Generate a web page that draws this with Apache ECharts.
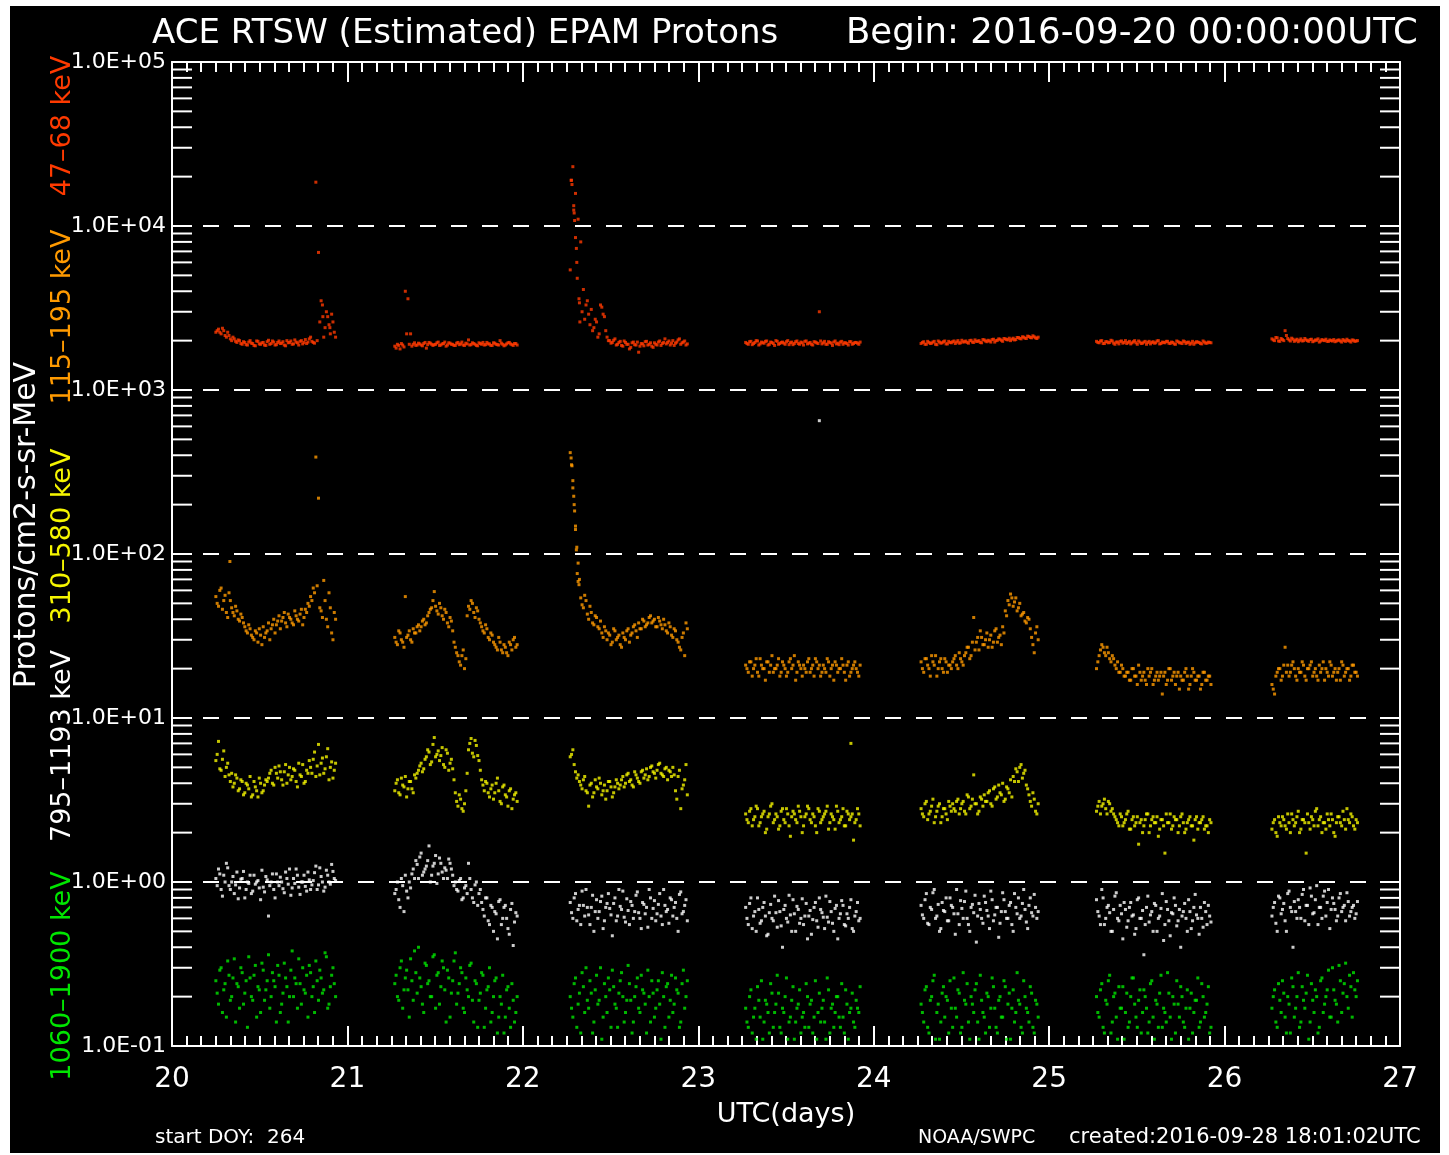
<!DOCTYPE html>
<html><head><meta charset="utf-8">
<script src="https://cdn.jsdelivr.net/npm/echarts@6/dist/echarts.min.js"></script>
<style>html,body{margin:0;padding:0;background:#fff;}#c{position:absolute;left:10px;top:6px;width:1430px;height:1147px;}</style>
</head><body><div id="c"></div>
<script>
// time grid of each data segment (day of month, UTC) and sampling step; layer B samples sit half a step later
const segStart = [20.25, 21.27, 22.27, 23.27, 24.27, 25.27, 26.27];
const cadence = 0.015;
const xTicks = [20, 21, 22, 23, 24, 25, 26, 27];
const yTickLabels = ['1.0E-01','1.0E+00','1.0E+01','1.0E+02','1.0E+03','1.0E+04','1.0E+05'];

// 47-68 keV (red)
const p47_68 = [
 [2250,2350,2200,2300,2100,2150,2000,2050,1950,2000,1900,1950,1880,2000,1920,1860,1980,1900,1950,1870,2010,1920,1960,1890,1990,1930,1880,2000,1950,1900,2020,1940,1980,1910,2030,1960,2100,1950,18500,6900,3500,2100,3000,2500,2900,2250],
 [1850,1900,1780,1880,4000,3600,2200,1900,1870,1930,1880,1920,1800,1950,1900,1890,1940,1870,1910,1960,1880,1930,1900,1870,1950,1910,1880,1930,2020,1890,1920,1870,1940,1900,1880,1950,1910,1870,1930,1890,2000,1900,1880,1940,1910,1870,1920],
 [5400,23000,15800,11000,8000,4100,3300,2900,3100,2400,2600,2200,3200,2800,2100,2000,1950,2050,1900,1980,1850,1950,1900,1820,1960,1880,1700,1920,1860,1980,1900,1850,1940,1880,1990,1920,2050,1950,1880,2000,1930,2020,1900,1960,1880],
 [1950,1900,1980,1920,2000,1880,1960,1930,1990,1900,1950,1870,1980,1920,1960,1900,2000,1940,1890,1970,1920,1960,1880,1990,1930,1900,1970,1940,3000,1910,1980,1900,1950,1870,1990,1930,1960,1900,1940,1880,1970,1920,1950,1900],
 [1920,1970,1900,1950,1930,1980,1890,1960,1940,1990,1910,1950,1970,1920,2000,1940,1960,1990,1930,2010,1950,1980,2000,1940,2020,1970,1990,2030,1960,2010,2040,1980,2050,2020,2000,2070,2030,2090,2050,2100,2060,2120,2080,2110,2060],
 [1980,1940,2000,1920,1970,1950,1990,1900,1960,1980,1930,2000,1950,1910,1970,1940,1990,1920,1960,1900,1980,1950,1930,1990,1910,1960,1940,1980,1920,1950,1900,1970,1940,1990,1920,1960,1930,1900,1970,1950,1910,1960,1930,1950],
 [2050,2000,2080,1980,2030,2300,2060,1990,2040,2010,1970,2050,2000,2020,1980,2040,1990,2010,1960,2030,2000,1980,2020,1990,1970,2010,1990,2030,1980,2000,1960,2010,1990]
];
const p47_68B = [
 [2300,2250,2380,2150,2250,2050,2100,1980,2020,1920,1970,1890,1960,1930,1870,1990,1910,1940,1880,1970,1900,1990,1880,1950,1920,1970,1860,1940,1990,1910,1960,1880,2000,1950,1920,2050,1980,1930,2000,2600,3300,2400,2800,2200,2600,2100],
 [1800,1870,1920,1830,2200,1900,1850,1940,1880,1910,1860,1950,1890,1930,1870,1900,1960,1880,1920,1850,1940,1900,1870,1930,1890,1960,1870,1910,1880,1940,1900,1860,1920,1950,1890,1910,1870,1940,1900,1880,1930,1860,1910,1950,1890,1920,1880],
 [19000,12000,6000,3400,3000,2700,3500,2500,2300,2700,2100,3300,2900,2300,2000,1930,2010,1880,1950,1870,1990,1900,1780,1940,1890,1960,1850,1910,1970,1880,1940,1820,1900,1960,1870,1950,1910,1990,1930,1870,1960,2050,1940,1990,1910],
 [1920,1970,1890,1950,1990,1910,1940,1980,1880,1960,1920,2000,1900,1950,1930,1970,1890,1960,1920,1990,1900,1940,1980,1910,1950,1880,1960,1920,1990,1940,1900,1970,1930,1960,1910,1890,1980,1940,1920,1970,1900,1950,1930,1960],
 [1950,1900,1980,1920,1960,1900,1990,1930,1970,1910,1980,1940,1990,1960,1930,2010,1970,1950,2000,1960,2020,1980,1950,2030,1990,2010,1960,2040,2000,2050,2010,2060,2030,2070,2040,2020,2090,2060,2110,2070,2130,2090,2140,2080,2100],
 [1950,1990,1920,1970,1940,2010,1930,1960,1910,1990,1950,1920,1980,1940,2000,1900,1960,1930,1980,1950,1910,1970,1940,2000,1920,1950,1980,1930,1960,1910,1990,1940,1920,1970,1950,1900,1980,1940,1960,1920,1990,1930,1960,1940],
 [2020,2090,1990,2060,2000,2150,2020,2070,1980,2040,2010,1990,2060,2000,2030,1970,2020,2050,1990,2010,2040,1980,2000,2030,1990,2020,1960,2000,2040,1990,2020,1980,2000]
];
const p47_68Extra = [[22.275,19000],[22.28,17900],[22.29,13300],[22.29,12500],[22.295,10800],[22.30,8500],[22.305,7300],[22.31,4800],[22.32,3600],[22.325,2600],[20.86,2800],[20.9,2400]];

// 115-195 keV (orange)
const p115_195 = [
 [55,48,62,52,44,58,47,42,45,39,41,36,33,35,31,34,29,32,36,33,38,35,40,37,42,39,44,36,41,38,45,40,43,37,46,50,55,62,390,219,45,69,40,58,33,44],
 [31,28,33,29,55,32,30,35,33,37,36,40,38,44,47,59,45,50,42,46,38,41,34,27,24,21,26,23,48,52,44,47,40,36,33,35,30,32,28,26,29,25,27,24,28,30,27],
 [415,280,148,88,54,47,52,40,44,37,41,35,33,36,30,32,29,34,31,28,33,30,35,32,36,34,38,35,39,37,41,38,40,36,39,35,37,33,36,31,34,29,26,33,38],
 [21,19,22,20,23,18,21,20,22,19,24,20,21,18,22,20,19,23,21,17,22,20,21,19,23,20,18,22,21,19,20,23,18,21,22,19,20,21,17,22,19,21,20,18],
 [22,19,23,20,24,21,18,22,20,23,19,21,22,24,20,23,21,25,27,24,41,29,26,31,28,33,30,27,34,29,32,36,45,52,57,48,54,47,42,44,38,40,31,25,36],
 [20,24,28,25,27,23,24,21,22,19,20,18,19,17,20,18,21,17,19,16,18,20,17,19,18,14,19,17,20,18,16,19,18,17,20,15,18,19,17,18,16,19,17,18],
 [16,14,19,20,18,27,21,19,22,18,20,19,21,17,20,22,19,18,21,20,17,19,22,18,20,19,17,21,19,20,18,21,19]
];
const p115_195B = [
 [50,60,46,56,41,52,44,48,40,43,38,34,37,32,30,33,35,28,31,34,30,37,33,39,35,41,38,43,40,37,42,39,46,41,44,48,52,58,64,47,41,52,36,47,30,40],
 [29,34,30,27,31,34,29,33,36,34,39,37,42,46,52,48,43,47,40,44,36,39,29,25,22,24,20,42,46,50,41,45,38,34,37,31,33,29,27,31,26,28,25,29,26,31,28],
 [350,200,110,70,49,56,43,48,38,42,36,39,31,34,33,28,35,30,32,27,31,34,29,33,37,31,35,40,36,38,42,39,36,41,37,40,34,38,32,35,30,27,31,24,35],
 [20,22,18,21,19,23,20,17,22,21,19,20,23,19,21,18,22,20,24,19,21,18,20,22,19,21,23,20,18,21,19,22,20,17,21,20,23,19,21,18,20,22,19,21],
 [20,23,21,18,22,24,20,23,19,22,21,20,23,21,25,22,24,27,23,29,26,31,34,28,30,27,32,29,35,31,28,33,42,49,54,51,45,50,43,39,41,35,28,33,30],
 [22,26,27,24,25,22,23,20,19,21,18,19,17,20,18,16,19,18,17,20,19,16,18,17,19,18,16,20,17,19,18,15,17,19,18,16,20,17,18,15,19,17,18,16],
 [15,18,20,17,21,19,18,21,20,17,19,22,18,20,21,18,20,17,19,22,20,18,21,19,17,20,22,18,20,17,21,19,18]
];
const p115_195Extra = [[20.33,90],[22.275,385],[22.28,345],[22.285,253],[22.29,225],[22.295,183],[22.30,141],[22.305,106],[22.31,76],[22.315,68],[22.32,65]];

// 310-580 keV (yellow)
const p310_580 = [
 [5.5,7.2,4.8,6.3,5.0,4.5,4.6,4.0,4.3,3.7,4.1,3.5,3.9,4.4,3.4,3.8,3.3,4.0,3.6,4.2,4.3,4.8,3.9,4.6,5.1,4.2,4.7,4.0,5.0,4.4,4.8,3.8,4.5,5.2,4.1,4.6,5.0,5.6,4.4,6.9,5.3,4.6,5.8,4.2,5.4,4.8],
 [3.6,4.2,3.4,3.9,4.4,3.7,4.1,3.5,4.3,4.8,5.3,4.9,5.8,6.2,5.4,7.6,6.0,5.5,6.6,5.0,6.1,5.3,4.9,3.5,2.9,3.2,2.7,3.6,6.4,7.5,5.8,6.8,5.5,4.2,3.6,4.0,3.3,3.9,3.5,4.3,3.1,3.8,3.4,2.9,3.7,3.2,3.5],
 [5.8,6.4,4.7,4.5,3.9,4.2,3.6,2.9,4.0,3.5,3.8,4.3,3.4,3.9,3.6,4.1,3.3,3.8,4.0,3.9,4.4,4.0,4.6,4.2,3.8,4.5,4.1,4.7,4.3,4.9,4.4,5.1,4.6,4.8,5.3,4.5,4.9,4.2,4.7,5.0,3.6,4.4,2.8,3.9,5.2],
 [2.6,2.3,2.8,2.4,2.9,2.2,2.5,2.7,2.1,2.6,3.0,2.4,2.5,2.2,2.8,2.3,2.6,1.9,2.7,2.4,2.9,2.5,2.2,2.6,2.8,2.3,2.5,2.0,2.7,2.4,2.6,2.9,2.3,2.5,2.1,2.7,2.4,2.8,2.2,2.6,2.5,1.8,2.4,2.6],
 [2.8,2.5,3.1,2.6,2.9,2.3,2.7,3.0,2.5,2.8,2.4,2.9,3.0,2.7,3.2,2.8,3.1,2.6,3.3,2.9,4.5,3.0,2.7,3.2,3.4,3.1,3.6,2.9,3.8,3.3,3.5,4.0,3.2,3.7,4.2,4.4,4.9,4.1,5.2,4.6,3.9,3.4,2.9,3.2,2.6],
 [2.7,3.1,2.9,3.2,2.6,3.0,2.8,2.5,2.3,2.6,2.2,2.4,2.7,2.1,2.5,2.3,1.7,2.4,2.2,2.6,2.0,2.4,2.3,2.5,2.1,2.4,1.5,2.3,2.6,2.2,2.4,2.0,2.5,2.3,2.1,2.4,2.2,1.8,2.5,2.3,2.4,2.1,2.2,2.4],
 [2.1,2.4,1.9,2.3,2.5,2.2,2.6,2.0,2.4,2.3,2.7,2.1,2.4,1.5,2.3,2.5,2.2,2.8,2.4,2.0,2.3,2.6,2.2,2.4,1.9,2.5,2.3,2.7,2.1,2.4,2.6,2.2,2.4]
];
const p310_580B = [
 [6.0,4.9,5.6,4.4,5.3,4.1,3.8,4.5,3.6,4.2,3.4,4.0,3.7,3.3,4.1,3.6,4.3,3.5,3.9,4.1,4.6,4.0,5.0,4.3,4.7,3.9,5.2,4.5,4.2,4.9,4.1,5.3,4.4,4.0,4.8,5.5,4.6,6.2,5.1,4.5,5.7,4.9,6.5,5.0,4.3,5.3],
 [4.0,3.5,4.3,3.8,3.3,4.1,3.7,4.5,4.6,5.1,4.7,5.6,6.4,5.2,6.9,5.8,6.3,5.9,5.2,6.4,4.8,5.6,4.2,3.1,3.4,2.8,3.0,4.6,7.0,6.1,7.3,5.9,4.8,3.9,4.1,3.5,3.7,3.2,4.0,3.6,3.0,3.9,3.3,3.6,2.8,3.4,3.1],
 [6.0,5.2,4.3,4.1,3.7,4.4,3.5,3.9,3.3,4.2,3.7,4.0,3.6,3.2,4.1,3.8,3.5,4.2,3.7,4.2,3.8,4.5,4.1,3.9,4.7,4.3,4.0,4.8,4.5,4.2,5.0,4.7,4.3,5.2,4.6,4.4,5.0,4.8,4.4,4.5,3.2,4.8,3.7,4.2,3.4],
 [2.4,2.7,2.2,2.5,2.8,2.3,2.6,2.0,2.5,2.9,2.3,2.6,2.1,2.7,2.4,2.8,2.2,2.5,2.6,2.3,2.7,2.0,2.5,2.9,2.4,2.6,2.2,2.8,2.3,2.5,2.7,2.1,2.6,2.4,2.9,2.3,2.5,2.2,2.7,2.4,2.6,2.3,2.8,2.2],
 [2.6,3.0,2.4,2.7,3.2,2.5,2.9,2.3,2.8,2.6,3.1,2.7,2.8,3.1,2.6,3.0,2.7,3.4,2.8,3.2,3.0,2.6,3.3,2.9,3.1,3.5,3.0,3.7,3.2,3.9,3.4,3.1,3.8,3.5,3.3,4.1,4.7,5.0,4.3,4.8,3.7,3.1,3.5,2.7,3.0],
 [2.9,2.6,3.0,2.8,3.1,2.7,2.6,2.4,2.2,2.5,2.3,2.6,2.1,2.4,2.2,2.5,2.3,2.0,2.4,2.6,2.2,2.5,2.3,1.9,2.4,2.2,2.6,2.3,2.1,2.5,2.4,2.2,2.6,2.0,2.3,2.5,2.2,2.4,2.1,2.3,2.5,2.2,2.0,2.3],
 [2.3,2.0,2.5,2.2,2.4,2.1,2.3,2.6,2.2,2.5,2.0,2.4,2.3,2.6,2.1,2.4,2.7,2.2,2.5,2.3,2.1,2.4,2.6,2.0,2.3,2.5,2.2,2.4,2.8,2.3,2.5,2.1,2.3]
];
const p310_580Extra = [[23.87,7.0]];

// 795-1193 keV (white)
const p795_1193 = [
 [1.05,1.2,0.9,1.1,1.3,0.95,1.0,0.85,1.15,0.92,1.05,0.8,1.0,1.1,0.88,0.97,1.02,0.78,0.93,1.08,0.62,1.0,0.9,1.12,0.95,1.0,0.86,1.05,1.2,0.92,0.98,1.1,0.84,1.0,0.94,1.15,0.9,1.02,1.25,0.96,1.08,0.88,1.18,1.0,1.28,1.05],
 [0.85,1.0,0.7,0.95,1.1,0.8,0.92,1.2,1.35,1.05,1.5,1.15,1.25,1.66,1.1,1.3,0.98,1.4,1.15,1.22,1.05,1.3,1.1,1.0,0.88,1.05,0.8,0.95,1.3,0.9,0.75,1.0,0.85,0.75,0.62,0.8,0.55,0.7,0.66,0.45,0.78,0.6,0.72,0.52,0.68,0.41,0.65],
 [0.75,0.6,0.85,0.68,0.55,0.72,0.9,0.63,0.7,0.5,0.78,0.66,0.82,0.58,0.74,0.69,0.47,0.8,0.62,0.71,0.88,0.57,0.67,0.76,0.6,0.83,0.65,0.52,0.73,0.7,0.9,0.6,0.77,0.64,0.85,0.55,0.72,0.68,0.8,0.62,0.75,0.5,0.87,0.66,0.78],
 [0.7,0.55,0.8,0.62,0.5,0.68,0.58,0.75,0.47,0.65,0.6,0.82,0.53,0.66,0.4,0.72,0.57,0.63,0.78,0.5,0.68,0.6,0.55,0.74,0.62,0.48,0.7,0.58,0.8,0.65,0.52,0.61,0.76,0.56,0.69,0.45,0.64,0.72,0.54,0.6,0.78,0.5,0.66,0.58],
 [0.72,0.6,0.85,0.55,0.68,0.9,0.62,0.5,0.75,0.66,0.58,0.8,0.7,0.48,0.64,0.77,0.6,0.88,0.55,0.7,0.65,0.43,0.74,0.6,0.82,0.67,0.52,0.78,0.63,0.7,0.56,0.86,0.66,0.6,0.75,0.5,0.7,0.8,0.62,0.9,0.57,0.72,0.65,0.84,0.6],
 [0.78,0.62,0.9,0.55,0.7,0.65,0.5,0.82,0.6,0.72,0.45,0.68,0.58,0.75,0.63,0.52,0.8,0.6,0.36,0.7,0.57,0.66,0.74,0.5,0.62,0.85,0.55,0.68,0.47,0.64,0.72,0.58,0.4,0.66,0.6,0.78,0.52,0.7,0.63,0.48,0.6,0.75,0.55,0.62],
 [0.62,0.75,0.5,0.8,0.68,0.58,0.85,0.7,0.4,0.66,0.78,0.6,0.9,0.72,0.55,0.82,0.65,0.95,0.7,0.6,0.88,0.75,0.52,0.8,0.68,0.62,0.85,0.7,0.58,0.76,0.66,0.72,0.64]
];
const p795_1193B = [
 [0.95,1.12,0.82,1.0,1.22,0.9,1.08,0.96,0.79,1.04,1.16,0.9,0.98,0.85,1.1,1.0,0.92,1.18,0.87,1.03,0.95,1.12,0.8,1.0,1.07,0.91,1.15,0.97,0.83,1.05,1.2,0.93,1.0,1.1,0.88,1.03,0.96,1.14,0.9,1.22,1.0,0.93,1.1,0.97,1.16,1.02],
 [0.9,0.78,1.05,0.66,0.88,1.0,1.12,1.05,1.28,1.42,1.1,1.2,1.35,1.0,1.25,1.45,1.12,1.3,1.05,1.18,1.38,1.2,0.95,0.9,1.02,0.78,0.92,0.85,1.05,0.8,0.96,0.72,0.9,0.68,0.8,0.58,0.72,0.5,0.64,0.76,0.55,0.7,0.6,0.48,0.74,0.57,0.62],
 [0.65,0.8,0.58,0.72,0.88,0.62,0.7,0.55,0.83,0.66,0.6,0.76,0.52,0.7,0.85,0.63,0.74,0.58,0.9,0.68,0.61,0.79,0.55,0.72,0.66,0.87,0.6,0.75,0.64,0.53,0.8,0.69,0.58,0.73,0.62,0.9,0.66,0.56,0.78,0.7,0.6,0.84,0.64,0.72,0.58],
 [0.6,0.74,0.52,0.66,0.8,0.56,0.7,0.62,0.48,0.73,0.58,0.65,0.77,0.54,0.68,0.6,0.83,0.5,0.64,0.71,0.56,0.79,0.62,0.45,0.67,0.59,0.75,0.53,0.68,0.61,0.82,0.57,0.66,0.5,0.72,0.6,0.77,0.55,0.64,0.7,0.52,0.62,0.75,0.6],
 [0.63,0.78,0.56,0.7,0.86,0.6,0.73,0.52,0.67,0.8,0.58,0.72,0.64,0.9,0.55,0.69,0.76,0.6,0.5,0.73,0.83,0.62,0.68,0.56,0.75,0.62,0.88,0.58,0.7,0.46,0.66,0.78,0.6,0.72,0.55,0.85,0.64,0.6,0.74,0.68,0.52,0.8,0.62,0.7,0.66],
 [0.66,0.55,0.8,0.6,0.72,0.5,0.68,0.86,0.58,0.64,0.75,0.53,0.7,0.62,0.48,0.78,0.6,0.67,0.55,0.82,0.63,0.5,0.72,0.6,0.69,0.44,0.76,0.58,0.65,0.8,0.54,0.68,0.62,0.74,0.5,0.66,0.58,0.84,0.6,0.7,0.53,0.66,0.72,0.57],
 [0.7,0.56,0.82,0.64,0.74,0.5,0.88,0.66,0.76,0.6,0.7,0.84,0.58,0.72,0.92,0.64,0.78,0.55,0.7,0.82,0.62,0.9,0.68,0.74,0.58,0.8,0.66,0.72,0.86,0.62,0.7,0.6,0.76]
];
const p795_1193Extra = [[23.69,650]];

// 1060-1900 keV (green)
const p1060_1900 = [
 [0.25,0.18,0.3,0.22,0.15,0.27,0.2,0.34,0.24,0.17,0.28,0.21,0.13,0.26,0.19,0.31,0.23,0.16,0.29,0.22,0.36,0.2,0.25,0.14,0.27,0.18,0.32,0.23,0.2,0.38,0.26,0.17,0.24,0.3,0.21,0.15,0.28,0.23,0.33,0.19,0.26,0.22,0.35,0.18,0.27,0.24],
 [0.24,0.2,0.3,0.17,0.26,0.22,0.34,0.19,0.28,0.4,0.23,0.16,0.31,0.25,0.2,0.36,0.27,0.18,0.33,0.22,0.29,0.15,0.25,0.37,0.21,0.3,0.17,0.26,0.2,0.32,0.14,0.24,0.19,0.28,0.13,0.22,0.3,0.16,0.25,0.12,0.2,0.27,0.15,0.23,0.13,0.19,0.16],
 [0.2,0.15,0.26,0.18,0.12,0.23,0.3,0.17,0.21,0.14,0.27,0.19,0.11,0.24,0.16,0.22,0.29,0.18,0.13,0.25,0.2,0.16,0.31,0.19,0.14,0.23,0.17,0.27,0.21,0.12,0.2,0.25,0.15,0.22,0.18,0.28,0.13,0.24,0.19,0.16,0.26,0.21,0.14,0.29,0.2],
 [0.17,0.13,0.22,0.15,0.11,0.19,0.25,0.14,0.18,0.12,0.21,0.16,0.27,0.13,0.17,0.2,0.11,0.15,0.23,0.14,0.18,0.12,0.16,0.24,0.13,0.19,0.15,0.11,0.21,0.17,0.14,0.26,0.12,0.18,0.16,0.2,0.13,0.15,0.22,0.11,0.17,0.14,0.19,0.16],
 [0.18,0.14,0.23,0.12,0.2,0.27,0.16,0.11,0.21,0.15,0.19,0.25,0.13,0.17,0.22,0.12,0.28,0.18,0.14,0.2,0.16,0.24,0.11,0.19,0.15,0.21,0.13,0.26,0.17,0.12,0.2,0.15,0.23,0.18,0.11,0.22,0.16,0.19,0.13,0.25,0.17,0.14,0.21,0.12,0.18],
 [0.2,0.15,0.24,0.12,0.18,0.27,0.14,0.21,0.11,0.17,0.23,0.16,0.13,0.2,0.26,0.15,0.19,0.12,0.22,0.17,0.14,0.25,0.11,0.18,0.21,0.13,0.16,0.28,0.15,0.2,0.12,0.18,0.23,0.14,0.17,0.11,0.21,0.16,0.19,0.13,0.24,0.15,0.18,0.12],
 [0.17,0.22,0.13,0.19,0.25,0.15,0.2,0.12,0.23,0.17,0.28,0.14,0.19,0.21,0.11,0.24,0.16,0.2,0.13,0.26,0.18,0.22,0.15,0.3,0.19,0.14,0.25,0.21,0.32,0.17,0.23,0.28,0.2]
];
const p1060_1900B = [
 [0.21,0.29,0.16,0.24,0.33,0.19,0.26,0.14,0.23,0.3,0.18,0.25,0.35,0.2,0.27,0.15,0.22,0.32,0.19,0.25,0.17,0.28,0.23,0.31,0.16,0.21,0.26,0.14,0.29,0.2,0.24,0.34,0.18,0.22,0.27,0.31,0.2,0.16,0.25,0.29,0.21,0.37,0.17,0.23,0.3,0.2],
 [0.27,0.19,0.33,0.22,0.29,0.15,0.25,0.38,0.21,0.26,0.18,0.32,0.24,0.2,0.35,0.17,0.28,0.23,0.3,0.14,0.26,0.21,0.33,0.18,0.24,0.28,0.16,0.22,0.31,0.19,0.25,0.13,0.21,0.27,0.17,0.23,0.14,0.2,0.26,0.15,0.18,0.12,0.22,0.17,0.24,0.14,0.2],
 [0.17,0.24,0.13,0.21,0.28,0.16,0.19,0.25,0.12,0.22,0.18,0.3,0.15,0.2,0.26,0.13,0.23,0.17,0.21,0.28,0.14,0.19,0.24,0.12,0.2,0.26,0.16,0.22,0.18,0.29,0.14,0.21,0.17,0.25,0.11,0.2,0.23,0.15,0.27,0.18,0.22,0.13,0.24,0.17,0.25],
 [0.14,0.2,0.12,0.17,0.23,0.15,0.11,0.19,0.16,0.24,0.13,0.18,0.21,0.12,0.16,0.26,0.14,0.19,0.11,0.17,0.22,0.15,0.13,0.2,0.18,0.12,0.25,0.16,0.14,0.19,0.11,0.22,0.17,0.13,0.2,0.15,0.24,0.12,0.18,0.16,0.21,0.13,0.17,0.23],
 [0.16,0.22,0.13,0.19,0.25,0.11,0.18,0.14,0.23,0.2,0.12,0.17,0.26,0.15,0.21,0.13,0.19,0.24,0.11,0.18,0.22,0.14,0.27,0.16,0.12,0.2,0.17,0.23,0.13,0.19,0.15,0.25,0.11,0.21,0.17,0.14,0.28,0.18,0.12,0.2,0.16,0.23,0.13,0.19,0.15],
 [0.16,0.22,0.13,0.19,0.25,0.12,0.2,0.15,0.23,0.17,0.11,0.21,0.14,0.26,0.18,0.13,0.22,0.16,0.2,0.12,0.24,0.15,0.19,0.13,0.27,0.17,0.14,0.21,0.11,0.18,0.25,0.15,0.2,0.13,0.22,0.17,0.12,0.19,0.26,0.14,0.2,0.16,0.23,0.13],
 [0.2,0.14,0.24,0.16,0.21,0.12,0.18,0.26,0.15,0.2,0.13,0.23,0.17,0.27,0.14,0.19,0.22,0.12,0.25,0.16,0.2,0.29,0.15,0.22,0.18,0.31,0.16,0.24,0.2,0.27,0.15,0.22,0.25]
];
const p1060_1900Extra = [];

const channels = [
  {name:'47–68 keV', a:p47_68, b:p47_68B, extra:p47_68Extra, color:'#ff3a00'},
  {name:'115–195 keV', a:p115_195, b:p115_195B, extra:p115_195Extra, color:'#ff9a00'},
  {name:'310–580 keV', a:p310_580, b:p310_580B, extra:p310_580Extra, color:'#f5f500'},
  {name:'795–1193 keV', a:p795_1193, b:p795_1193B, extra:p795_1193Extra, color:'#ffffff'},
  {name:'1060–1900 keV', a:p1060_1900, b:p1060_1900B, extra:p1060_1900Extra, color:'#00e600'}
];

function buildPoints(segsA, segsB, extra){
  const pts = [];
  segsA.forEach((vals, s) => vals.forEach((v, i) => pts.push([+(segStart[s] + i*cadence).toFixed(4), v])));
  segsB.forEach((vals, s) => vals.forEach((v, i) => pts.push([+(segStart[s] + (i + 0.5)*cadence).toFixed(4), v])));
  extra.forEach(p => pts.push(p));
  return pts;
}

// log minor tick positions (2..9 per decade) for the frame
const yMinor = [];
for (let e = -1; e < 5; e++) for (let m = 2; m <= 9; m++) yMinor.push([20, m*Math.pow(10, e)]);

const FONT = 'DejaVu Sans';
const chart = echarts.init(document.getElementById('c'), null, {renderer:'canvas'});
const axisLineStyle = {color:'#ffffff', width:2};
const xCommon = {
  type:'value', min:20, max:27, interval:1,
  axisLine:{show:true, lineStyle:axisLineStyle},
  axisTick:{show:true, inside:true, length:20, lineStyle:axisLineStyle},
  minorTick:{show:true, splitNumber:12, length:10, lineStyle:axisLineStyle},
  splitLine:{show:false}, minorSplitLine:{show:false}
};
const yCommon = {
  type:'log', logBase:10, min:0.1, max:100000, splitNumber:6,
  axisLine:{show:true, lineStyle:axisLineStyle},
  axisTick:{show:true, inside:true, length:20, lineStyle:axisLineStyle}
};

const series = channels.map(c => ({
  type:'scatter', name:c.name, xAxisIndex:0, yAxisIndex:0,
  symbol:'rect', symbolSize:3, itemStyle:{color:c.color},
  data: buildPoints(c.a, c.b, c.extra), z:3
}));
series.push({
  type:'custom', coordinateSystem:'cartesian2d', xAxisIndex:0, yAxisIndex:0, silent:true, z:4,
  data: yMinor,
  renderItem: (params, api) => {
    const cs = params.coordSys;
    const y = api.coord([api.value(0), api.value(1)])[1];
    return {type:'group', children:[
      {type:'line', shape:{x1:cs.x, y1:y, x2:cs.x+20, y2:y}, style:{stroke:'#fff', lineWidth:2}},
      {type:'line', shape:{x1:cs.x+cs.width-20, y1:y, x2:cs.x+cs.width, y2:y}, style:{stroke:'#fff', lineWidth:2}}
    ]};
  }
});

function vtext(x, y, text, color, size){
  return {type:'text', x:x, y:y, rotation:Math.PI/2, z:10,
    style:{text:text, fill:color, font:(size||27) + 'px "' + FONT + '"', align:'center', verticalAlign:'middle', textAlign:'center', textVerticalAlign:'middle'}};
}
function htext(x, y, text, size, align){
  return {type:'text', x:x, y:y, z:10,
    style:{text:text, fill:'#fff', font:size + 'px "' + FONT + '"', align:align||'left', verticalAlign:'middle', textAlign:align||'left', textVerticalAlign:'middle'}};
}

chart.setOption({
  backgroundColor:'#000000',
  animation:false,
  grid:{left:162, top:56, width:1228, height:984, containLabel:false},
  xAxis:[
    Object.assign({}, xCommon, {position:'bottom',
      axisLabel:{show:true, color:'#fff', fontSize:28, fontFamily:FONT, margin:20,
        formatter: v => xTicks.indexOf(v) >= 0 ? String(v) : ''}}),
    Object.assign({}, xCommon, {position:'top', axisLabel:{show:false}})
  ],
  yAxis:[
    Object.assign({}, yCommon, {position:'left',
      axisLabel:{show:true, color:'#fff', fontSize:22, fontFamily:FONT, margin:6,
        formatter: v => yTickLabels[Math.round(Math.log10(v)) + 1]},
      splitLine:{show:true, lineStyle:{color:'#ffffff', width:2, type:[16,15]}}}),
    Object.assign({}, yCommon, {position:'right', axisLabel:{show:false}, splitLine:{show:false}})
  ],
  series: series,
  graphic:[
    htext(142, 28, 'ACE RTSW (Estimated) EPAM Protons', 34),
    htext(836, 28, 'Begin: 2016-09-20 00:00:00UTC', 35.5),
    vtext(53, 120, '47–68 keV', channels[0].color),
    vtext(53, 311, '115–195 keV', channels[1].color),
    vtext(53, 530, '310–580 keV', channels[2].color),
    vtext(53, 740, '795–1193 keV', channels[3].color),
    vtext(53, 970, '1060–1900 keV', channels[4].color),
    vtext(17, 519, 'Protons/cm2-s-sr-MeV', '#ffffff', 30),
    htext(776, 1109, 'UTC(days)', 27, 'center'),
    htext(145, 1132, 'start DOY:  264', 20),
    htext(908, 1132, 'NOAA/SWPC', 19),
    htext(1059, 1132, 'created:2016-09-28 18:01:02UTC', 21)
  ]
});
</script></body></html>
